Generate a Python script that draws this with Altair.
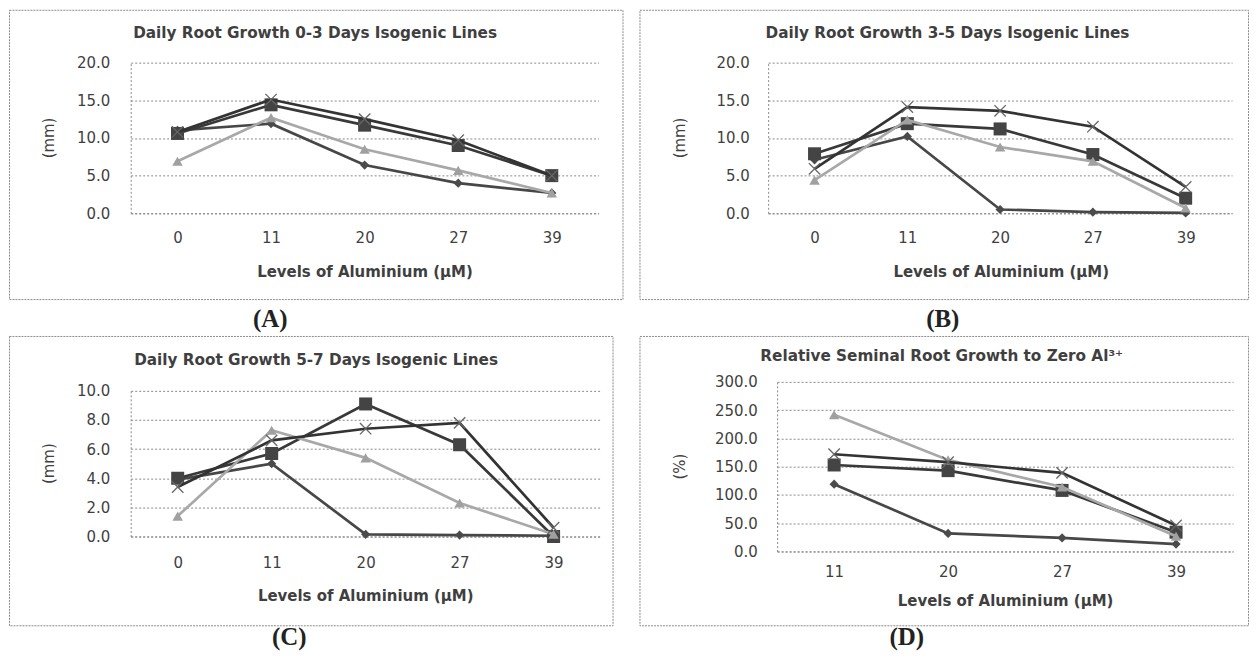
import altair as alt
import pandas as pd

# ---------------- data ----------------
levels_abc = ["0", "11", "20", "27", "39"]
levels_d = ["11", "20", "27", "39"]
series_names = ["Diamond", "Square", "Triangle", "Cross"]

# (A) Daily root growth 0-3 days (mm)
a_diamond = [11.0, 11.9, 6.4, 4.0, 2.7]
a_square = [10.6, 14.4, 11.7, 9.0, 5.0]
a_triangle = [6.9, 12.7, 8.5, 5.7, 2.7]
a_cross = [10.8, 15.1, 12.5, 9.7, 5.0]

# (B) Daily root growth 3-5 days (mm)
b_diamond = [7.1, 10.2, 0.5, 0.15, 0.05]
b_square = [7.9, 11.9, 11.2, 7.8, 2.0]
b_triangle = [4.4, 12.4, 8.8, 6.9, 0.7]
b_cross = [5.9, 14.1, 13.6, 11.5, 3.5]

# (C) Daily root growth 5-7 days (mm)
c_diamond = [3.9, 5.0, 0.15, 0.1, 0.05]
c_square = [4.0, 5.7, 9.1, 6.3, 0.0]
c_triangle = [1.4, 7.3, 5.4, 2.3, 0.15]
c_cross = [3.4, 6.6, 7.4, 7.8, 0.6]

# (D) Relative seminal root growth to zero Al (%)
d_diamond = [119.0, 32.0, 24.0, 13.0]
d_square = [153.0, 143.0, 108.0, 34.0]
d_triangle = [242.0, 162.0, 114.0, 27.0]
d_cross = [172.0, 158.0, 139.0, 46.0]

titles = [
    "Daily Root Growth 0-3 Days Isogenic Lines",
    "Daily Root Growth 3-5 Days Isogenic Lines",
    "Daily Root Growth 5-7 Days Isogenic Lines",
    "Relative Seminal Root Growth to Zero Al\u00b3\u207a",
]
panel_labels = ["(A)", "(B)", "(C)", "(D)"]
y_titles = ["(mm)", "(mm)", "(mm)", "(%)"]
x_title = "Levels of Aluminium (\u00b5M)"
ticks_mm20 = [0, 5, 10, 15, 20]
ticks_mm10 = [0, 2, 4, 6, 8, 10]
ticks_pct = [0, 50, 100, 150, 200, 250, 300]

# ---------------- styling ----------------
FONT = "DejaVu Sans"
TEXT = "#3f3f3f"
GRID = "#8a8a8a"
STYLE = {
    "Diamond": dict(line="#474747", shape="diamond", size=85, filled=True, pcolor="#4b4b4b"),
    "Square": dict(line="#393939", shape="square", size=170, filled=True, pcolor="#444444"),
    "Triangle": dict(line="#a8a8a8", shape="triangle-up", size=110, filled=True, pcolor="#a0a0a0"),
    "Cross": dict(line="#333333", shape="M-1,-1L1,1M-1,1L1,-1", size=130, filled=False, pcolor="#666666"),
}


def one(text):
    return alt.Chart(pd.DataFrame({"t": [text]}))


def panel(levels, values, ticks, title, label, ytitle, g):
    w, h = g["w"], g["h"]
    x0, x1 = g["xr"]
    yb, yt = g["yr"]
    ymax = ticks[-1]
    x_enc = alt.X(
        "level:O",
        sort=levels,
        scale=alt.Scale(type="point", domain=levels, padding=0.5, range=[x0, x1]),
        axis=alt.Axis(
            title=None, labelAngle=0, ticks=False, grid=False,
            labelFont=FONT, labelFontSize=15, labelColor=TEXT,
            labelPadding=g["xpad"], domainColor=GRID, domainDash=[2, 2],
            domainWidth=1, offset=yb - h,
        ),
    )
    y_enc = alt.Y(
        "value:Q",
        scale=alt.Scale(domain=[0, ymax], nice=False, range=[yb, yt]),
        axis=alt.Axis(
            title=None, values=ticks, format=".1f", ticks=False,
            grid=True, gridColor=GRID, gridDash=[2, 2], gridWidth=1,
            domainColor=GRID, domainDash=[2, 2], domainWidth=1,
            labelFont=FONT, labelFontSize=15, labelColor=TEXT,
            labelPadding=g["ypad"], offset=-x0,
        ),
    )
    layers = []
    tx, ty = g["title"]
    layers.append(
        one(title).mark_text(font=FONT, fontSize=15.3, fontWeight="bold",
                             color=TEXT, align="center", baseline="middle").encode(
            x=alt.value(tx), y=alt.value(ty), text="t:N")
    )
    xx, xy = g["xtitle"]
    layers.append(
        one(x_title).mark_text(font=FONT, fontSize=15, fontWeight="bold",
                               color=TEXT, align="center", baseline="middle").encode(
            x=alt.value(xx), y=alt.value(xy), text="t:N")
    )
    yx, yy = g["ytitle"]
    layers.append(
        one(ytitle).mark_text(font=FONT, fontSize=15, color=TEXT, angle=270,
                              align="center", baseline="middle").encode(
            x=alt.value(yx), y=alt.value(yy), text="t:N")
    )
    lx, ly = g["label"]
    layers.append(
        one(label).mark_text(font="Liberation Serif", fontSize=25, fontWeight="bold",
                             color="#222222", align="center", baseline="middle").encode(
            x=alt.value(lx), y=alt.value(ly), text="t:N")
    )
    for name, vals in zip(series_names, values):
        st = STYLE[name]
        df = pd.DataFrame({"level": levels, "value": vals, "series": name})
        base = alt.Chart(df).encode(x=x_enc, y=y_enc)
        layers.append(base.mark_line(color=st["line"], strokeWidth=2.7))
        pt_kwargs = dict(shape=st["shape"], size=st["size"], filled=st["filled"],
                         color=st["pcolor"], opacity=1)
        if not st["filled"]:
            pt_kwargs["strokeWidth"] = 1.3
        layers.append(base.mark_point(**pt_kwargs))
    return alt.layer(*layers).properties(width=w, height=h)


# geometry relative to each panel's bordered box (the view)
geo_a = dict(w=615, h=290, xr=(122, 591), yr=(204, 53), title=(306.8, 23),
             xtitle=(356.8, 263), ytitle=(40, 128.5), label=(262, 310), ypad=21, xpad=17)
geo_b = dict(w=610, h=290, xr=(129, 594), yr=(204, 53), title=(308.8, 23),
             xtitle=(362.6, 263), ytitle=(41, 128.5), label=(304, 310), ypad=19, xpad=17)
geo_c = dict(w=605, h=290, xr=(122, 593), yr=(201, 55), title=(307.8, 24),
             xtitle=(357.6, 261), ytitle=(40, 128), label=(281, 302), ypad=21, xpad=19)
geo_d = dict(w=610, h=290, xr=(138, 595), yr=(216, 46), title=(303, 20),
             xtitle=(367, 266), ytitle=(41, 131), label=(268, 302), ypad=20, xpad=13)

pa = panel(levels_abc, [a_diamond, a_square, a_triangle, a_cross], ticks_mm20,
           titles[0], panel_labels[0], y_titles[0], geo_a)
pb = panel(levels_abc, [b_diamond, b_square, b_triangle, b_cross], ticks_mm20,
           titles[1], panel_labels[1], y_titles[1], geo_b)
pc = panel(levels_abc, [c_diamond, c_square, c_triangle, c_cross], ticks_mm10,
           titles[2], panel_labels[2], y_titles[2], geo_c)
pd_ = panel(levels_d, [d_diamond, d_square, d_triangle, d_cross], ticks_pct,
            titles[3], panel_labels[3], y_titles[3], geo_d)

chart = alt.concat(pa, pb, pc, pd_, columns=2, spacing={"row": 2, "column": 15}).properties(
    padding=0, background="white"
).configure_view(stroke="#8c8c8c", strokeDash=[2, 1], strokeWidth=1)

chart.save("out.html", embed_options={"renderer": "svg", "actions": False})
